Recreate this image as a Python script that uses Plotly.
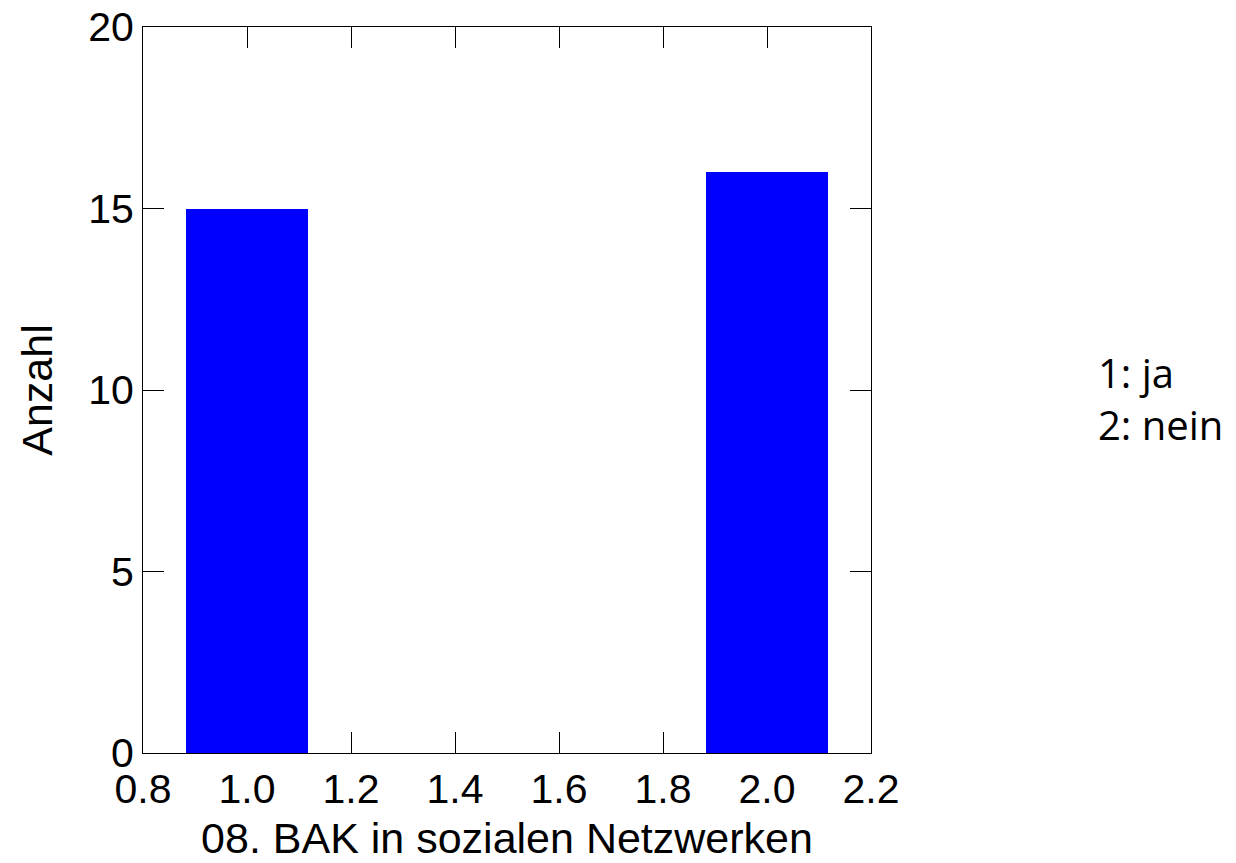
import plotly.graph_objects as go

# data
categories = [1.0, 2.0]
counts = [15, 16]
x_ticks = [0.8, 1.0, 1.2, 1.4, 1.6, 1.8, 2.0, 2.2]
y_ticks = [0, 5, 10, 15, 20]
legend_lines = ["1: ja", "2: nein"]

# the page body adds an 8px offset, so the figure is sized to fill the rest of the window
W, H = 1228, 855
ml, mt = 135, 19
pw, ph = 728, 726
mr = W - ml - pw
mb = H - mt - ph

fig = go.Figure()
fig.add_trace(go.Bar(x=categories, y=counts, width=0.236,
                     marker=dict(color="#0000ff", line=dict(width=0)),
                     showlegend=False))

axis_common = dict(showline=True, linecolor="black", linewidth=1, mirror="ticks",
                   ticks="inside", ticklen=21, tickcolor="black", tickwidth=1,
                   showgrid=False, zeroline=False, automargin=False,
                   ticklabeloverflow="allow",
                   tickfont=dict(family="Liberation Sans, Arial", size=41, color="black"),
                   layer="below traces")

fig.update_layout(
    width=W, height=H,
    margin=dict(l=ml, r=mr, t=mt, b=mb, pad=0),
    paper_bgcolor="white", plot_bgcolor="white",
    bargap=0,
    xaxis=dict(range=[0.8, 2.2], tickvals=x_ticks,
               ticktext=[f"{v:.1f}" for v in x_ticks],
               title=dict(text="08. BAK in sozialen Netzwerken", standoff=11,
                          font=dict(family="Liberation Sans, Arial", size=43, color="black")),
               **axis_common),
    yaxis=dict(range=[0, 20], tickvals=y_ticks,
               title=dict(text="Anzahl", standoff=22,
                          font=dict(family="Liberation Sans, Arial", size=43, color="black")),
               **axis_common),
    annotations=[dict(text="<br>".join(legend_lines), xref="paper", yref="paper",
                      x=(1088 - ml) / pw, y=1 - (391 - mt) / ph,
                      xanchor="left", yanchor="middle",
                      align="left", showarrow=False,
                      font=dict(family="Open Sans", size=40, color="black"))],
)

fig.write_html("out.html")
